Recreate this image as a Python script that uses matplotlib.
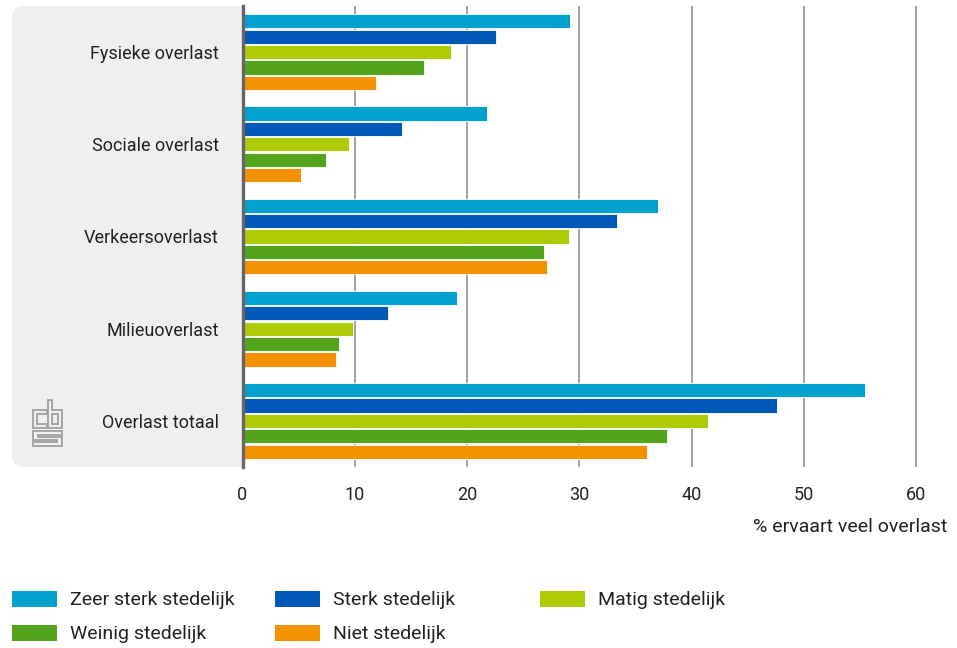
import matplotlib.pyplot as plt
import numpy as np
from matplotlib.patches import FancyBboxPatch, Rectangle, Polygon

categories = ["Fysieke overlast", "Sociale overlast", "Verkeersoverlast",
              "Milieuoverlast", "Overlast totaal"]
series = ["Zeer sterk stedelijk", "Sterk stedelijk", "Matig stedelijk",
          "Weinig stedelijk", "Niet stedelijk"]
colors = ["#00a1cd", "#0058b8", "#afcb05", "#53a31d", "#f39200"]

zeer_sterk = [29.2, 21.8, 37.0, 19.1, 55.5]
sterk = [22.6, 14.2, 33.4, 13.0, 47.6]
matig = [18.6, 9.5, 29.1, 9.8, 41.5]
weinig = [16.2, 7.4, 26.9, 8.6, 37.8]
niet = [11.9, 5.2, 27.1, 8.3, 36.0]
values = [zeer_sterk, sterk, matig, weinig, niet]

xticks = [0, 10, 20, 30, 40, 50, 60]

plt.rcParams["font.family"] = ["Roboto", "DejaVu Sans"]

W, H = 957, 648
fig = plt.figure(figsize=(W / 100, H / 100), dpi=100)


def px(x, y):
    return (x / W, 1 - y / H)


# axes placed in pixel terms
left, right, top, bottom = 242.5, 947, 6, 467
ax = fig.add_axes([left / W, 1 - bottom / H, (right - left) / W, (bottom - top) / H])
ax.set_zorder(1)
ax.patch.set_facecolor("white")

# grey label panel (right side hidden under the axes)
x0, y0 = px(12, bottom)
x1, y1 = px(270, top)
bg = FancyBboxPatch((x0, y0), x1 - x0, y1 - y0, boxstyle="round,pad=0,rounding_size=0.012",
                    transform=fig.transFigure, facecolor="#efefef", edgecolor="none",
                    zorder=0, mutation_aspect=W / H)
fig.patches.append(bg)

y = np.arange(len(categories))
pitch = 0.167
height = 0.152
for i, (name, vals, c) in enumerate(zip(series, values, colors)):
    ax.barh(y - 2 * pitch + i * pitch, vals, height=height, color=c,
            edgecolor="white", linewidth=0.6, zorder=3)

ax.set_ylim(4.5, -0.5)
ax.set_xlim(0, (right - left) / 11.225)
ax.set_yticks(y)
ax.set_yticklabels(categories, fontsize=13, color="#222222")
ax.set_xticks(xticks)
ax.set_xticklabels([str(t) for t in xticks], fontsize=13, color="#222222")
ax.tick_params(axis="both", length=0)
ax.tick_params(axis="y", pad=17)
ax.tick_params(axis="x", pad=14)
ax.grid(axis="x", color="#8a8a8a", linewidth=1.1, zorder=1)
ax.set_axisbelow(True)
for s in ["top", "right", "bottom"]:
    ax.spines[s].set_visible(False)
ax.spines["left"].set_color("#666666")
ax.spines["left"].set_linewidth(2.4)
ax.spines["left"].set_zorder(4)

fig.text(*px(947, 527), "% ervaart veel overlast", ha="right", va="center",
         fontsize=14, color="#222222")

# cbs logo
logo_col = "#a0a0a0"
shapes = [
    [(47, 410), (33, 410), (33, 428), (47, 428), (47, 424), (37, 424), (37, 414), (47, 414)],
    [(48, 400), (52, 400), (52, 410), (62, 410), (62, 428), (48, 428)],
    [(52, 414), (58, 414), (58, 424), (52, 424)],
    [(62, 431), (33, 431), (33, 440), (57, 440), (57, 442), (33, 442), (33, 446),
     (62, 446), (62, 437), (38, 437), (38, 435), (62, 435)],
]
for pts in shapes:
    fig.patches.append(Polygon([px(a, b) for a, b in pts], closed=True, fill=False,
                               edgecolor=logo_col, linewidth=1.3,
                               transform=fig.transFigure, zorder=2))

# legend
positions = [(12, 591), (275, 591), (540, 591), (12, 625), (275, 625)]
for (lx, ly), name, c in zip(positions, series, colors):
    rx, ry = px(lx, ly + 16)
    fig.patches.append(Rectangle((rx, ry), 45 / W, 16 / H, transform=fig.transFigure,
                                 facecolor=c, edgecolor="none"))
    fig.text(*px(lx + 58, ly + 9), name, ha="left", va="center", fontsize=14,
             color="#222222")

fig.savefig("out.png", dpi=100)
